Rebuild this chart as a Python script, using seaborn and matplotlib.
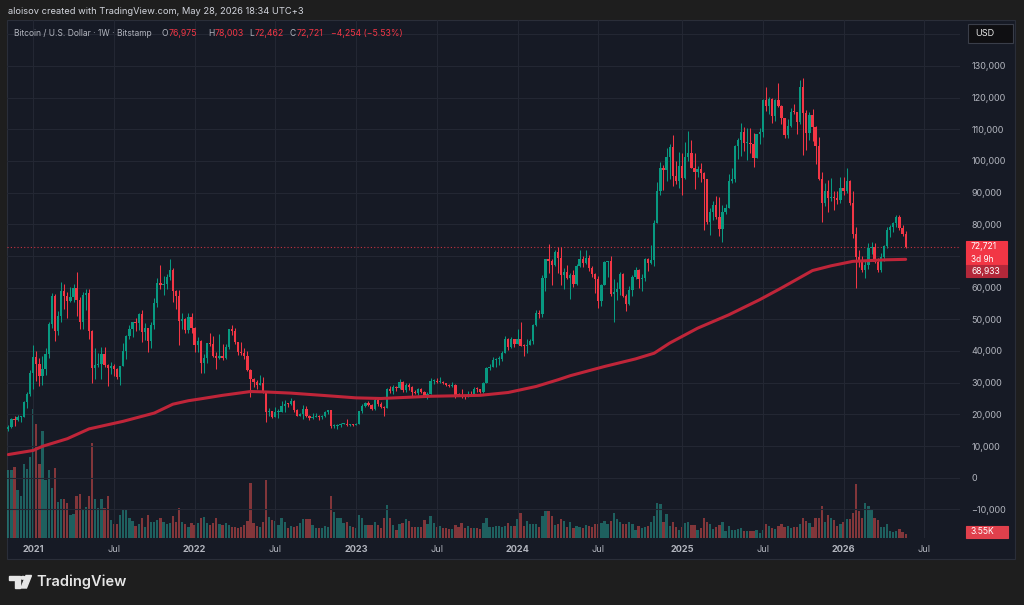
import numpy as np
import pandas as pd
import matplotlib
matplotlib.use("Agg")
import matplotlib.pyplot as plt
from matplotlib.colors import to_rgba
from matplotlib.patches import Rectangle, Polygon, Circle
import seaborn as sns

# weekly candles, Bitstamp BTC/USD, values in thousands of USD
start_week = "2020-11-09"

opens = [
    # 2020
    15.3, 16.0, 18.4, 18.2, 19.2, 19.3, 23.8, 26.4,
    # 2021
    33.0, 38.2, 36.0, 32.1, 34.3, 39.2, 48.6, 57.5, 46.2, 51.0, 59.0, 57.5, 55.8, 57.1, 60.0, 56.2, 49.1, 57.8,
    58.2, 46.4, 34.7, 35.6, 35.8, 39.1, 35.5, 34.7, 35.3, 34.3, 31.8, 35.4, 39.9, 44.6, 47.0, 49.0, 48.8, 51.8,
    46.0, 47.3, 43.2, 48.2, 55.0, 61.5, 60.9, 61.3, 63.3, 65.5, 59.0, 57.3, 49.4, 50.1, 46.7, 50.8,
    # 2022
    47.3, 41.8, 43.1, 36.3, 37.9, 42.4, 42.2, 38.4, 37.7, 38.4, 37.8, 41.3, 46.8, 46.4, 42.8, 39.7, 39.4, 38.5,
    34.0, 31.3, 30.3, 29.4, 29.9, 26.6, 20.6, 21.0, 19.3, 20.8, 20.8, 22.6, 23.3, 23.2, 24.3, 21.5, 19.6, 20.0,
    21.8, 19.4, 18.8, 19.3, 19.4, 19.2, 19.6, 20.6, 21.3, 16.3, 16.3, 16.5, 17.1, 17.1, 16.7, 16.8,
    # 2023
    16.5, 17.1, 20.9, 22.7, 23.7, 22.9, 21.8, 24.6, 23.2, 22.4, 22.0, 28.0, 27.5, 28.5, 28.3, 30.3, 27.6, 29.2,
    28.7, 26.9, 26.8, 28.1, 27.2, 25.9, 26.3, 30.5, 30.6, 30.2, 30.3, 29.8, 29.3, 29.0, 29.4, 26.1, 26.0, 25.9,
    25.8, 26.5, 26.2, 28.0, 27.9, 27.0, 30.0, 34.5, 35.0, 37.1, 37.4, 37.5, 39.5, 43.8, 41.4, 43.7,
    # 2024
    42.3, 43.9, 41.7, 41.6, 42.0, 43.0, 48.3, 52.1, 51.7, 63.1, 68.9, 68.4, 67.2, 71.3, 69.4, 63.9, 64.9, 63.1,
    64.0, 61.0, 66.9, 69.0, 67.7, 69.3, 66.2, 64.3, 62.7, 55.9, 60.8, 68.2, 68.3, 58.1, 58.7, 59.5, 64.2, 57.3,
    54.8, 59.1, 63.3, 65.6, 62.8, 63.0, 69.0, 67.9, 68.8, 80.4, 90.6, 97.9, 97.0, 101.1, 104.4, 95.2, 93.7,
    # 2025
    98.3, 94.5, 101.3, 102.6, 97.7, 96.5, 97.5, 96.3, 94.3, 80.7, 84.0, 86.1, 82.4, 78.4, 83.8, 85.1, 93.8, 94.3,
    104.6, 106.5, 109.0, 105.7, 105.7, 105.5, 101.0, 108.4, 109.2, 119.1, 117.3, 119.4, 114.2, 119.3, 117.4,
    113.5, 108.3, 111.1, 115.4, 115.3, 112.2, 123.5, 115.1, 108.7, 114.5, 110.6, 104.7, 94.4, 86.8, 90.4, 88.2,
    88.5, 88.3, 87.8,
    # 2026
    91.4, 90.5, 93.6, 86.7, 77.0, 69.8, 68.7, 65.6, 67.2, 72.4, 72.8, 68.2, 65.6, 69.6, 73.1, 78.3, 79.3, 80.5,
    82.3, 78.8, 76.975,
]

highs = [
    16.5, 18.8, 19.5, 19.9, 19.4, 24.3, 26.9, 34.0,
    41.9, 40.1, 37.8, 38.5, 40.9, 49.0, 58.4, 58.0, 52.6, 61.8, 61.0, 58.5, 60.2, 61.2, 64.9, 57.0, 58.5, 59.6,
    59.6, 46.6, 40.9, 39.5, 41.3, 41.3, 36.0, 36.6, 35.9, 34.7, 35.4, 42.6, 44.9, 48.1, 49.3, 50.5, 51.9, 52.9,
    48.8, 47.4, 49.2, 56.6, 62.9, 67.0, 63.7, 64.3, 69.0, 66.3, 59.3, 59.2, 51.9, 50.5, 51.9, 52.1,
    47.5, 44.4, 43.5, 38.9, 42.6, 45.8, 44.7, 39.8, 45.4, 42.3, 42.3, 46.9, 48.2, 47.1, 42.9, 42.9, 40.8, 40.0,
    34.3, 31.4, 30.7, 32.3, 31.7, 26.8, 21.9, 21.2, 22.4, 21.6, 24.3, 24.6, 23.6, 25.2, 24.4, 21.8, 20.5, 22.8,
    22.7, 19.9, 20.5, 20.5, 19.9, 19.7, 20.9, 21.5, 21.4, 17.1, 16.9, 17.4, 17.4, 18.4, 17.0, 16.9,
    17.4, 21.0, 23.4, 23.9, 24.2, 23.4, 25.2, 25.0, 23.9, 22.6, 28.4, 28.9, 29.2, 28.8, 31.0, 30.5, 30.0, 29.8,
    29.0, 27.6, 28.4, 28.4, 27.4, 27.0, 31.4, 31.0, 31.4, 31.8, 30.4, 30.0, 29.7, 30.2, 29.7, 26.8, 28.1, 26.1,
    27.4, 27.5, 28.6, 28.6, 28.0, 30.3, 35.0, 35.9, 38.0, 37.9, 38.4, 40.0, 44.7, 44.0, 44.4, 43.8,
    47.0, 49.0, 42.2, 43.9, 43.9, 48.6, 52.8, 52.9, 64.0, 69.0, 73.8, 68.9, 71.8, 72.8, 72.8, 66.2, 67.2, 64.7,
    65.5, 67.4, 71.9, 70.0, 71.9, 70.2, 66.9, 64.5, 63.7, 61.3, 68.4, 68.5, 70.0, 62.8, 61.8, 64.9, 64.5, 58.0,
    60.6, 64.1, 66.5, 66.0, 64.4, 69.4, 69.5, 73.6, 81.5, 93.5, 99.6, 98.7, 104.1, 105.3, 108.3, 99.9, 102.7,
    102.5, 106.0, 109.6, 106.5, 102.5, 98.5, 99.5, 96.5, 94.4, 85.3, 87.5, 88.8, 88.5, 86.0, 86.4, 95.8, 97.9,
    104.9, 107.1, 112.0, 110.7, 110.5, 110.5, 108.9, 108.5, 110.5, 119.5, 123.2, 120.2, 119.8, 119.6, 124.5,
    117.7, 113.7, 113.4, 116.8, 117.9, 115.4, 125.7, 126.2, 116.0, 115.5, 116.4, 111.0, 107.5, 96.6, 93.0, 94.1,
    94.6, 90.4, 90.4, 94.8,
    94.8, 97.9, 93.9, 90.5, 79.3, 72.0, 70.0, 68.5, 74.0, 74.5, 74.0, 69.5, 70.8, 73.5, 79.0, 79.8, 80.8, 82.9,
    82.8, 79.8, 78.003,
]

lows = [
    14.8, 15.8, 16.2, 18.0, 17.6, 19.0, 22.0, 25.9,
    28.1, 30.4, 28.9, 29.2, 32.3, 37.9, 47.2, 43.0, 44.9, 49.3, 53.3, 50.4, 55.5, 55.5, 51.0, 47.0, 47.0, 53.0,
    43.8, 30.0, 31.3, 34.9, 31.0, 34.9, 28.8, 32.8, 32.1, 31.0, 29.3, 35.2, 37.5, 43.8, 44.4, 46.4, 46.6, 42.8,
    43.4, 39.6, 40.8, 47.0, 53.9, 59.6, 57.8, 59.5, 62.3, 55.6, 53.3, 42.0, 46.8, 45.6, 45.6, 45.7,
    39.7, 39.6, 33.0, 32.9, 36.3, 41.7, 38.0, 34.3, 37.4, 37.2, 37.6, 40.5, 45.1, 42.1, 38.6, 38.6, 37.6, 33.7,
    25.4, 28.6, 28.0, 29.3, 26.6, 17.6, 19.6, 18.8, 19.0, 18.9, 20.8, 20.7, 22.4, 22.8, 20.8, 19.5, 19.5, 18.6,
    19.3, 18.1, 18.5, 19.1, 18.2, 18.6, 19.3, 20.1, 15.6, 15.8, 15.5, 16.1, 16.8, 16.3, 16.4, 16.3,
    16.5, 17.0, 20.4, 22.4, 22.5, 21.4, 21.4, 22.7, 21.9, 19.6, 21.9, 26.6, 26.5, 27.3, 28.0, 27.2, 26.9, 27.7,
    25.8, 26.3, 26.0, 26.6, 25.4, 24.8, 26.3, 29.5, 29.9, 29.9, 29.6, 28.9, 28.6, 28.7, 25.2, 25.8, 25.3, 24.9,
    25.6, 26.0, 26.0, 27.2, 26.6, 26.8, 29.9, 33.9, 34.8, 34.8, 35.6, 36.9, 39.4, 40.2, 40.9, 41.3,
    42.1, 41.5, 38.5, 39.5, 41.8, 42.3, 48.0, 50.5, 50.6, 59.0, 64.5, 60.8, 66.9, 64.5, 60.7, 59.6, 62.8, 56.5,
    60.2, 60.7, 66.5, 66.6, 67.5, 65.1, 63.5, 58.4, 53.5, 54.3, 60.7, 63.5, 57.4, 49.0, 56.1, 57.8, 57.2, 52.5,
    54.6, 57.5, 62.7, 59.8, 58.9, 62.0, 65.1, 67.5, 66.8, 80.3, 89.4, 90.8, 93.6, 94.2, 92.2, 92.6, 91.4,
    89.2, 94.2, 100.0, 97.7, 91.2, 94.9, 93.4, 78.2, 80.0, 76.6, 81.2, 81.6, 76.2, 74.5, 83.1, 85.0, 92.9, 93.4,
    100.7, 101.5, 103.0, 100.4, 102.6, 98.2, 100.9, 105.3, 107.5, 115.8, 114.7, 112.0, 112.6, 116.9, 111.7,
    107.3, 107.3, 110.7, 114.7, 108.6, 111.8, 102.0, 103.5, 106.7, 106.3, 98.9, 94.0, 80.6, 85.8, 83.9, 87.5,
    84.5, 86.5, 86.8,
    89.3, 90.0, 86.0, 75.7, 60.0, 66.5, 65.0, 62.9, 66.0, 70.5, 67.8, 64.8, 65.0, 68.5, 72.5, 76.0, 77.5, 79.2,
    78.2, 76.3, 72.462,
]

closes = [
    16.0, 18.4, 18.2, 19.2, 19.3, 23.8, 26.4, 33.0,
    38.2, 36.0, 32.1, 34.3, 39.2, 48.6, 57.5, 46.2, 51.0, 59.0, 57.5, 55.8, 57.1, 60.0, 56.2, 49.1, 57.8, 58.2,
    46.4, 34.7, 35.6, 35.8, 39.1, 35.5, 34.7, 35.3, 34.3, 31.8, 35.4, 39.9, 44.6, 47.0, 49.0, 48.8, 51.8, 46.0,
    47.3, 43.2, 48.2, 55.0, 61.5, 60.9, 61.3, 63.3, 65.5, 59.0, 57.3, 49.4, 50.1, 46.7, 50.8, 47.3,
    41.8, 43.1, 36.3, 37.9, 42.4, 42.2, 38.4, 37.7, 38.4, 37.8, 41.3, 46.8, 46.4, 42.8, 39.7, 39.4, 38.5, 34.0,
    31.3, 30.3, 29.4, 29.9, 26.6, 20.6, 21.0, 19.3, 20.8, 20.8, 22.6, 23.3, 23.2, 24.3, 21.5, 19.6, 20.0, 21.8,
    19.4, 18.8, 19.3, 19.4, 19.2, 19.6, 20.6, 21.3, 16.3, 16.3, 16.5, 17.1, 17.1, 16.7, 16.8, 16.5,
    17.1, 20.9, 22.7, 23.7, 22.9, 21.8, 24.6, 23.2, 22.4, 22.0, 28.0, 27.5, 28.5, 28.3, 30.3, 27.6, 29.2, 28.7,
    26.9, 26.8, 28.1, 27.2, 25.9, 26.3, 30.5, 30.6, 30.2, 30.3, 29.8, 29.3, 29.0, 29.4, 26.1, 26.0, 25.9, 25.8,
    26.5, 26.2, 28.0, 27.9, 27.0, 30.0, 34.5, 35.0, 37.1, 37.4, 37.5, 39.5, 43.8, 41.4, 43.7, 42.3,
    43.9, 41.7, 41.6, 42.0, 43.0, 48.3, 52.1, 51.7, 63.1, 68.9, 68.4, 67.2, 71.3, 69.4, 63.9, 64.9, 63.1, 64.0,
    61.0, 66.9, 69.0, 67.7, 69.3, 66.2, 64.3, 62.7, 55.9, 60.8, 68.2, 68.3, 58.1, 58.7, 59.5, 64.2, 57.3, 54.8,
    59.1, 63.3, 65.6, 62.8, 63.0, 69.0, 67.9, 68.8, 80.4, 90.6, 97.9, 97.0, 101.1, 104.4, 95.2, 93.7, 98.3,
    94.5, 101.3, 102.6, 97.7, 96.5, 97.5, 96.3, 94.3, 80.7, 84.0, 86.1, 82.4, 78.4, 83.8, 85.1, 93.8, 94.3,
    104.6, 106.5, 109.0, 105.7, 105.7, 105.5, 101.0, 108.4, 109.2, 119.1, 117.3, 119.4, 114.2, 119.3, 117.4,
    113.5, 108.3, 111.1, 115.4, 115.3, 112.2, 123.5, 115.1, 108.7, 114.5, 110.6, 104.7, 94.4, 86.8, 90.4, 88.2,
    88.5, 88.3, 87.8, 91.4,
    90.5, 93.6, 86.7, 77.0, 69.8, 68.7, 65.6, 67.2, 72.4, 72.8, 68.2, 65.6, 69.6, 73.1, 78.3, 79.3, 80.5, 82.3,
    78.8, 76.975, 72.721,
]

# weekly volume, thousands of BTC
volumes_k = [
    70, 70, 74, 50, 43, 77, 72, 84,
    134, 118, 77, 111, 60, 70, 52, 73, 37.5, 40, 40, 36.5, 23.5, 24.5, 43, 46, 29, 31.5, 43, 99, 40, 31, 40.5,
    30.5, 43, 18.5, 14, 14, 23.5, 29.5, 29, 20, 17.5, 12.5, 14, 20, 11, 23.5, 16, 16.5, 18.5, 21, 16.5, 14, 15,
    23, 16.5, 30.5, 16.5, 14, 11, 15,
    13, 15, 21, 21.5, 15, 13, 15, 20, 14, 13, 15, 13, 11.5, 11.5, 10, 11.5, 13, 17.5, 56.5, 15, 12, 11.5, 16.5,
    60, 22, 18.5, 17.5, 13, 20, 16.5, 10, 12, 11.5, 12, 15, 19, 19.5, 19, 13, 10, 10, 10, 12, 11.5, 43, 27, 21,
    20, 15, 16.5, 12, 11.5,
    10, 23.5, 21, 13, 13, 13, 16, 13, 10, 21, 34, 21, 13, 8, 14, 15, 19, 17.5, 11.5, 11, 11.5, 11.5, 18.5, 14,
    23, 15, 11.5, 12.5, 10, 10, 9, 9, 13, 11.5, 15, 10, 12, 10.5, 10.5, 10, 9, 15, 20, 11, 11.5, 12, 12, 11.5,
    12, 15, 12, 12,
    19.5, 25.5, 12, 17.5, 14, 14, 14, 11.5, 22.5, 28, 28, 22.5, 13, 14, 19.5, 17.5, 11, 16, 10, 12.5, 11.5,
    10.5, 13, 12.5, 11, 14, 14, 15, 17.5, 14, 17.5, 26, 19, 16, 14, 14, 16, 14, 8, 12, 10, 11.5, 12, 16.5, 23,
    36, 35, 16.5, 24.5, 12, 16.5, 11.5, 7.5,
    11, 15, 16, 13, 13, 7.5, 10, 21, 16.5, 14, 9, 11, 13, 16, 7, 12.5, 8, 8, 9, 10.5, 7, 6.5, 6.5, 7, 7.5, 5, 8,
    14, 12, 10, 9, 12.5, 14, 11, 12.5, 10, 11, 11, 14, 21, 17.5, 15, 11, 21, 21, 33, 16.5, 23.5, 21, 18.5, 12,
    14,
    16.5, 19, 19, 25.5, 56, 28, 20, 36, 33, 29.5, 21, 18.5, 11.5, 11.5, 14, 6.5, 5.5, 7, 9, 5.5, 3.55,
]

# 200-week moving average (week number, value in thousands)
ma_week = [0, 8, 11, 19, 26, 37, 47, 53, 58, 62, 69, 78, 82, 91, 101, 112, 120, 136, 152, 161, 170, 177,
           181, 192, 202, 208, 213, 222, 232, 242, 249, 259, 265, 272, 283, 289]
ma_value = [7.3, 8.6, 9.9, 12.3, 15.4, 17.8, 20.4, 23.2, 24.3, 24.9, 26.0, 27.2, 27.1, 26.7, 26.0, 25.2,
            25.0, 25.7, 26.0, 26.9, 28.8, 30.9, 32.2, 35.1, 37.5, 39.3, 42.5, 47.2, 51.4, 56.2, 59.9, 65.4,
            66.9, 68.3, 68.8, 68.933]

W, H = 1024, 605
BG = "#1e1e1e"
PANEL = "#161a25"
GRID = "#232733"
TEXT = "#b2b5be"
UP = "#089981"
DOWN = "#f23645"
MA = "#bf2539"


def fx(x):
    return x / W


def fy(y):
    return 1 - y / H


sns.set_theme(style="dark")
plt.rcParams["font.family"] = ["Inter", "DejaVu Sans"]

df = pd.DataFrame({
    "week": pd.date_range(start_week, periods=len(closes), freq="W-MON"),
    "open": opens, "high": highs, "low": lows, "close": closes, "volume": volumes_k,
})
df["pos"] = np.arange(len(df))
df["up"] = df["close"] >= df["open"]

fig = plt.figure(figsize=(W / 100, H / 100), dpi=100, facecolor=BG)
fig.patches.append(Rectangle((fx(7), fy(559)), fx(1015) - fx(7), fy(20) - fy(559),
                             transform=fig.transFigure, facecolor=PANEL, edgecolor="#2a2e39",
                             lw=0.8, zorder=0))

rect = [fx(7), fy(537.7), fx(960) - fx(7), fy(20) - fy(537.7)]
xlim = (-0.42, 306.5)

# volume pane behind the price pane
vax = fig.add_axes(rect, zorder=1)
vcols = [to_rgba("#26a69a", 0.5) if u else to_rgba("#ef5350", 0.5) for u in df["up"]]
vax.bar(df["pos"], df["volume"], width=0.74, color=vcols, linewidth=0)
vax.set_xlim(*xlim)
vax.set_ylim(0, 539)
vax.set_axis_off()

ax = fig.add_axes(rect, zorder=2)
ax.set_facecolor("none")
for s in ax.spines.values():
    s.set_visible(False)

cols = np.where(df["up"], UP, DOWN)
ax.vlines(df["pos"], df["low"], df["high"], colors=cols, lw=0.75, zorder=3)
body_bot = df[["open", "close"]].min(axis=1)
body_h = (df["close"] - df["open"]).abs().clip(lower=0.32)
ax.bar(df["pos"], body_h, bottom=body_bot, width=0.74, color=cols, linewidth=0, zorder=4)

sns.lineplot(x=ma_week, y=ma_value, ax=ax, color=MA, lw=2.2, zorder=5)
ax.axhline(df["close"].iloc[-1], color=DOWN, lw=0.8, ls=(0, (1, 2)), alpha=0.8, zorder=2)

ax.set_xlim(*xlim)
ax.set_ylim(-18.95, 144.5)

# price scale on the right; 70,000 sits under the last-price tag, 140,000 under the USD button
yt = np.arange(-10, 150, 10)
ax.yaxis.tick_right()
ax.set_yticks(yt)
ax.set_yticklabels(["" if v in (70, 140) else f"{v * 1000:,.0f}".replace("-", "\u2212") for v in yt])
ax.tick_params(axis="y", length=0, pad=8, labelsize=6.5, labelcolor=TEXT)

# time scale: first week of each January / July
ext = pd.date_range(start_week, periods=310, freq="W-MON")
tpos, tlab = [], []
for i in range(1, len(ext)):
    if ext[i].month != ext[i - 1].month and ext[i].month in (1, 7) and i <= xlim[1]:
        tpos.append(i)
        tlab.append(str(ext[i].year) if ext[i].month == 1 else "Jul")
ax.set_xticks(tpos)
ax.set_xticklabels(tlab)
for t in ax.get_xticklabels():
    if t.get_text() != "Jul":
        t.set_fontweight("bold")
ax.tick_params(axis="x", length=0, pad=5, labelsize=6.6, labelcolor=TEXT)
ax.set_xlabel("")
ax.set_ylabel("")
ax.grid(True, color=GRID, lw=0.8)

# header lines
fig.text(fx(8), fy(12), "aloisov created with TradingView.com, May 28, 2026 18:34 UTC+3",
         color="#d1d4dc", fontsize=6.7, va="center")
fig.text(fx(14), fy(33), "Bitcoin / U.S. Dollar \u00b7 1W \u00b7 Bitstamp", color=TEXT, fontsize=6.1, va="center")
last = df.iloc[-1]
prev_close = df["close"].iloc[-2]
chg = last["close"] - prev_close
legend_bits = [("O", 168.3, last["open"]), ("H", 215.0, last["high"]),
               ("L", 254.5, last["low"]), ("C", 296.5, last["close"])]
for letter, xv, val in legend_bits:
    fig.text(fx(xv - 0.6), fy(33), letter, color=TEXT, fontsize=6.1, va="center", ha="right")
    fig.text(fx(xv), fy(33), f"{val * 1000:,.0f}", color=DOWN, fontsize=6.3, va="center")
fig.text(fx(331), fy(33), f"{chg * 1000:,.0f} ({chg / prev_close * 100:.2f}%)".replace("-", "\u2212"),
         color=DOWN, fontsize=6.3, va="center")


def box(x0, y0, x1, y1, color, edge=None):
    fig.patches.append(Rectangle((fx(x0), fy(y1)), fx(x1) - fx(x0), fy(y0) - fy(y1),
                                 transform=fig.transFigure, facecolor=color,
                                 edgecolor=edge if edge else color, lw=0.8, zorder=6))


box(968, 23.5, 1013, 42.5, "#0f0f12", "#3a3e49")
fig.text(fx(975), fy(33), "USD", color="#e6e6e6", fontsize=6.6, va="center", zorder=7)

box(966, 241, 1007, 265, DOWN)
fig.text(fx(971), fy(246.5), f"{last['close'] * 1000:,.0f}", color="white", fontsize=6.2, va="center", zorder=7)
fig.text(fx(971), fy(259.2), "3d 9h", color="white", fontsize=6.0, va="center", zorder=7)
box(966, 265, 1007, 276.7, "#b3283a")
fig.text(fx(971), fy(271), f"{ma_value[-1] * 1000:,.0f}", color="white", fontsize=6.2, va="center", zorder=7)

box(966, 526, 1008, 538, "#e0404c")
fig.text(fx(971), fy(532), f"{volumes_k[-1]:.2f}K", color="white", fontsize=6.2, va="center", zorder=7)

# TradingView logo
logo = "#e6e6e6"
fig.patches.append(Polygon([(fx(9), fy(575.5)), (fx(19.5), fy(575.5)), (fx(19.5), fy(588)),
                            (fx(14.5), fy(588)), (fx(14.5), fy(580)), (fx(9), fy(580))],
                           closed=True, transform=fig.transFigure, color=logo, zorder=6))
fig.patches.append(Circle((fx(23), fy(577.8)), 2.3 / W, transform=fig.transFigure, color=logo, zorder=6))
fig.patches.append(Polygon([(fx(26), fy(575.5)), (fx(31.5), fy(575.5)), (fx(26.5), fy(588)), (fx(21), fy(588))],
                           closed=True, transform=fig.transFigure, color=logo, zorder=6))
fig.text(fx(36), fy(582), "TradingView", color=logo, fontsize=10.5, fontweight="semibold", va="center")

fig.savefig("out.png", dpi=100, facecolor=BG)
